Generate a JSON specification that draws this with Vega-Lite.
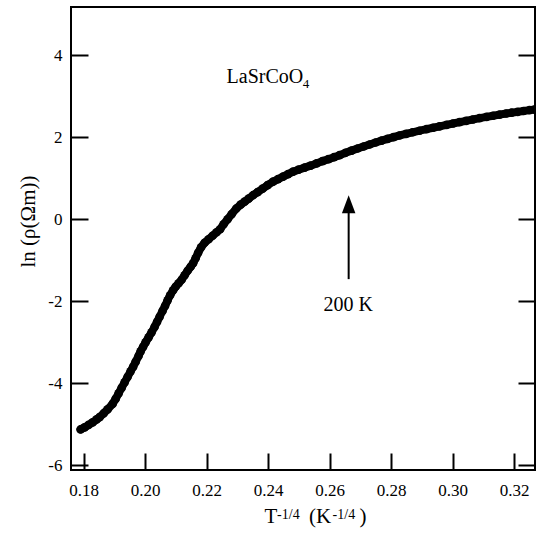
{
  "$schema": "https://vega.github.io/schema/vega-lite/v6.json",
  "width": 464,
  "height": 463,
  "autosize": "none",
  "padding": {"left": 71, "top": 7, "right": 2, "bottom": 66},
  "config": {
    "font": "Liberation Serif",
    "view": {"stroke": "black", "strokeWidth": 2},
    "text": {"font": "Liberation Serif"},
    "axis": {"grid": false, "domain": false, "tickColor": "black", "tickWidth": 2, "tickSize": -17, "labelColor": "black", "labelFont": "Liberation Serif", "labelFontSize": 17, "titleColor": "black", "titleFont": "Liberation Serif", "titleFontWeight": "normal"}
  },
  "datasets": {
    "curve": [
      {"x": 0.17902, "y": -5.122}, {"x": 0.18033, "y": -5.073}, {"x": 0.18163, "y": -5.012}, {"x": 0.18293, "y": -4.951},
      {"x": 0.18423, "y": -4.878}, {"x": 0.18520, "y": -4.822}, {"x": 0.18650, "y": -4.732}, {"x": 0.18780, "y": -4.634},
      {"x": 0.18943, "y": -4.500}, {"x": 0.19041, "y": -4.378}, {"x": 0.19138, "y": -4.244}, {"x": 0.19236, "y": -4.110},
      {"x": 0.19333, "y": -3.976}, {"x": 0.19431, "y": -3.841}, {"x": 0.19528, "y": -3.707}, {"x": 0.19610, "y": -3.598},
      {"x": 0.19691, "y": -3.476}, {"x": 0.19789, "y": -3.329}, {"x": 0.19854, "y": -3.220}, {"x": 0.19935, "y": -3.110},
      {"x": 0.20016, "y": -3.000}, {"x": 0.20114, "y": -2.878}, {"x": 0.20211, "y": -2.756}, {"x": 0.20309, "y": -2.622},
      {"x": 0.20390, "y": -2.500}, {"x": 0.20472, "y": -2.378}, {"x": 0.20569, "y": -2.232}, {"x": 0.20650, "y": -2.110},
      {"x": 0.20732, "y": -1.976}, {"x": 0.20813, "y": -1.854}, {"x": 0.20911, "y": -1.732}, {"x": 0.20992, "y": -1.646},
      {"x": 0.21089, "y": -1.561}, {"x": 0.21187, "y": -1.476}, {"x": 0.21285, "y": -1.366}, {"x": 0.21382, "y": -1.256},
      {"x": 0.21480, "y": -1.159}, {"x": 0.21561, "y": -1.073}, {"x": 0.21642, "y": -0.951}, {"x": 0.21724, "y": -0.817},
      {"x": 0.21821, "y": -0.683}, {"x": 0.21935, "y": -0.573}, {"x": 0.22065, "y": -0.488}, {"x": 0.22195, "y": -0.402},
      {"x": 0.22325, "y": -0.317}, {"x": 0.22439, "y": -0.244}, {"x": 0.22553, "y": -0.122}, {"x": 0.22683, "y": 0.000},
      {"x": 0.22813, "y": 0.122}, {"x": 0.22959, "y": 0.256}, {"x": 0.23106, "y": 0.354}, {"x": 0.23236, "y": 0.427},
      {"x": 0.23366, "y": 0.500}, {"x": 0.23512, "y": 0.585}, {"x": 0.23659, "y": 0.659}, {"x": 0.23821, "y": 0.744},
      {"x": 0.23984, "y": 0.829}, {"x": 0.24163, "y": 0.915}, {"x": 0.24325, "y": 0.976}, {"x": 0.24488, "y": 1.037},
      {"x": 0.24650, "y": 1.098}, {"x": 0.24813, "y": 1.159}, {"x": 0.24992, "y": 1.207}, {"x": 0.25187, "y": 1.256},
      {"x": 0.25382, "y": 1.305}, {"x": 0.25577, "y": 1.359}, {"x": 0.25772, "y": 1.415}, {"x": 0.25967, "y": 1.463},
      {"x": 0.26146, "y": 1.512}, {"x": 0.26325, "y": 1.561}, {"x": 0.26520, "y": 1.618}, {"x": 0.26715, "y": 1.671},
      {"x": 0.26911, "y": 1.722}, {"x": 0.27106, "y": 1.772}, {"x": 0.27301, "y": 1.821}, {"x": 0.27496, "y": 1.868},
      {"x": 0.27691, "y": 1.914}, {"x": 0.27886, "y": 1.958}, {"x": 0.28081, "y": 2.000}, {"x": 0.28276, "y": 2.040},
      {"x": 0.28488, "y": 2.080}, {"x": 0.28699, "y": 2.118}, {"x": 0.28927, "y": 2.156}, {"x": 0.29154, "y": 2.193},
      {"x": 0.29366, "y": 2.228}, {"x": 0.29577, "y": 2.262}, {"x": 0.29805, "y": 2.298}, {"x": 0.30016, "y": 2.331},
      {"x": 0.30228, "y": 2.364}, {"x": 0.30439, "y": 2.396}, {"x": 0.30660, "y": 2.430}, {"x": 0.30878, "y": 2.461},
      {"x": 0.31106, "y": 2.492}, {"x": 0.31317, "y": 2.520}, {"x": 0.31528, "y": 2.548}, {"x": 0.31746, "y": 2.575},
      {"x": 0.31919, "y": 2.595}, {"x": 0.32114, "y": 2.615}, {"x": 0.32309, "y": 2.636}, {"x": 0.32504, "y": 2.657},
      {"x": 0.32667, "y": 2.671}
    ],
    "labels": [
      {"text": "LaSrCoO", "x": 0.2265, "y": 3.317, "kind": "note", "align": "left"},
      {"text": "4", "x": 0.25130, "y": 3.188, "kind": "sub", "align": "left"},
      {"text": "200 K", "x": 0.26602, "y": -2.237, "kind": "note", "align": "center"},
      {"text": "T", "x": 0.23886, "y": -7.398, "kind": "title", "align": "left"},
      {"text": "-1/4", "x": 0.24293, "y": -7.293, "kind": "sup", "align": "left"},
      {"text": "(K", "x": 0.25333, "y": -7.398, "kind": "title", "align": "left"},
      {"text": "-1/4", "x": 0.26098, "y": -7.293, "kind": "sup", "align": "left"},
      {"text": ")", "x": 0.26976, "y": -7.398, "kind": "title", "align": "left"}
    ],
    "arrow": [{"x": 0.2662, "y": -1.46, "y2": 0.2}],
    "head": [{"x": 0.2662, "y": 0.366}]
  },
  "resolve": {"axis": {"y": "independent"}},
  "layer": [
    {
      "data": {"name": "curve"},
      "mark": {"type": "line", "color": "black", "strokeWidth": 8, "strokeCap": "round", "clip": true},
      "encoding": {
        "x": {"field": "x", "type": "quantitative", "scale": {"domain": [0.1759, 0.3268], "nice": false, "zero": false},
              "axis": {"title": null, "values": [0.18, 0.20, 0.22, 0.24, 0.26, 0.28, 0.30, 0.32], "format": ".2f", "labelFont": "Liberation Serif", "labelFontSize": 17, "labelPadding": 29, "labelFlush": false}},
        "y": {"field": "y", "type": "quantitative", "scale": {"domain": [-6.11, 5.17], "nice": false, "zero": false},
              "axis": {"orient": "left", "title": "ln (ρ(Ωm))", "titleFontSize": 21, "titleX": -43, "titleY": 214, "titleBaseline": "middle", "values": [-6, -4, -2, 0, 2, 4], "labelExpr": "'' + datum.value", "labelFont": "Liberation Serif", "labelFontSize": 17, "labelPadding": 26, "labelFlush": false}}
      }
    },
    {
      "data": {"name": "curve"},
      "mark": {"type": "point", "filled": true, "color": "black", "opacity": 1, "size": 75, "clip": true},
      "encoding": {
        "x": {"field": "x", "type": "quantitative"},
        "y": {"field": "y", "type": "quantitative", "axis": null}
      }
    },
    {
      "data": {"name": "arrow"},
      "mark": {"type": "rule", "color": "black", "strokeWidth": 2},
      "encoding": {
        "x": {"field": "x", "type": "quantitative"},
        "y": {"field": "y", "type": "quantitative", "axis": {"orient": "right", "title": null, "labels": false, "values": [-6, -4, -2, 0, 2, 4]}},
        "y2": {"field": "y2"}
      }
    },
    {
      "data": {"name": "head"},
      "mark": {"type": "point", "filled": true, "color": "black", "opacity": 1, "size": 324, "shape": "M0,-1L-0.75,1L0.75,1Z"},
      "encoding": {
        "x": {"field": "x", "type": "quantitative"},
        "y": {"field": "y", "type": "quantitative", "axis": null}
      }
    },
    {
      "data": {"name": "labels"},
      "transform": [{"filter": "datum.kind === 'title'"}],
      "mark": {"type": "text", "color": "black", "font": "Liberation Serif", "fontSize": 21, "align": "left", "baseline": "alphabetic", "clip": false},
      "encoding": {
        "x": {"field": "x", "type": "quantitative"},
        "y": {"field": "y", "type": "quantitative", "axis": null},
        "text": {"field": "text"}
      }
    },
    {
      "data": {"name": "labels"},
      "transform": [{"filter": "datum.kind === 'note' && datum.align === 'left'"}],
      "mark": {"type": "text", "color": "black", "font": "Liberation Serif", "fontSize": 20, "align": "left", "baseline": "alphabetic"},
      "encoding": {
        "x": {"field": "x", "type": "quantitative"},
        "y": {"field": "y", "type": "quantitative", "axis": null},
        "text": {"field": "text"}
      }
    },
    {
      "data": {"name": "labels"},
      "transform": [{"filter": "datum.kind === 'note' && datum.align === 'center'"}],
      "mark": {"type": "text", "color": "black", "font": "Liberation Serif", "fontSize": 20, "align": "center", "baseline": "alphabetic"},
      "encoding": {
        "x": {"field": "x", "type": "quantitative"},
        "y": {"field": "y", "type": "quantitative", "axis": null},
        "text": {"field": "text"}
      }
    },
    {
      "data": {"name": "labels"},
      "transform": [{"filter": "datum.kind === 'sub'"}],
      "mark": {"type": "text", "color": "black", "font": "Liberation Serif", "fontSize": 13, "align": "left", "baseline": "alphabetic"},
      "encoding": {
        "x": {"field": "x", "type": "quantitative"},
        "y": {"field": "y", "type": "quantitative", "axis": null},
        "text": {"field": "text"}
      }
    },
    {
      "data": {"name": "labels"},
      "transform": [{"filter": "datum.kind === 'sup'"}],
      "mark": {"type": "text", "color": "black", "font": "Liberation Serif", "fontSize": 14, "align": "left", "baseline": "alphabetic"},
      "encoding": {
        "x": {"field": "x", "type": "quantitative"},
        "y": {"field": "y", "type": "quantitative", "axis": null},
        "text": {"field": "text"}
      }
    }
  ]
}
